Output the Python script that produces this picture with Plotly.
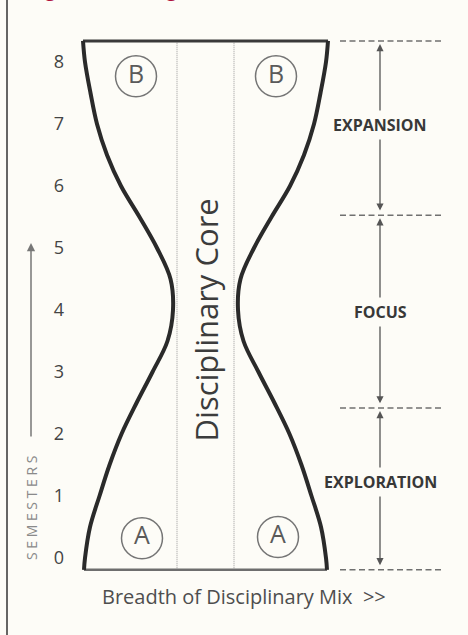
import plotly.graph_objects as go

# ---------------- data ----------------
semester_ticks = [0, 1, 2, 3, 4, 5, 6, 7, 8]
outline_semester = [-0.19, 0.0, 0.5, 1.0, 1.5, 2.0, 2.5, 3.0, 3.5, 4.0, 4.5, 5.0, 5.5, 6.0, 6.5, 7.0, 7.5, 8.0, 8.34]
outline_halfwidth = [12.15, 12.05, 11.55, 10.6, 9.6, 8.4, 6.9, 5.3, 3.8, 3.25, 3.5, 4.85, 6.6, 8.45, 9.85, 10.85, 11.5, 12.05, 12.25]
core_halfwidth = 2.85
core_label = "Disciplinary Core"
core_label_semester = 3.84

stage_letters = ["A", "A", "B", "B"]
stage_breadth = [-6.35, 7.25, -6.95, 7.05]
stage_semester = [0.32, 0.34, 7.77, 7.77]

phase_labels = ["EXPLORATION", "FOCUS", "EXPANSION"]
phase_bounds = [-0.19, 2.42, 5.53, 8.34]
phase_label_semester = [1.23, 3.97, 6.98]

x_title = "Breadth of Disciplinary Mix\u00a0\u00a0>>"
y_title = "S E M E S T E R S"
fig_title = "Figure 1: Undergraduate Curriculum Model"

# ---------------- styling constants ----------------
BG = "#FDFCF7"
FONT = "Open Sans"
OUT = "#2A2A2A"
GREY = "#707070"
X_RANGE = [-20.55, 26.25]
Y_RANGE = [-1.2419, 9.0]
PHASE_X = 17.45
DASH_X = [13.45, 23.75]
SEM_X = -17.45

fig = go.Figure()

left_x = [-w for w in outline_halfwidth]
right_x = list(outline_halfwidth)

# core dotted lines
for sgn in (-1, 1):
    fig.add_trace(go.Scatter(
        x=[sgn * core_halfwidth, sgn * core_halfwidth],
        y=[outline_semester[0], outline_semester[-1]],
        mode="lines", line=dict(color="#9A9A9A", width=1, dash="1px,1px"),
        hoverinfo="skip", showlegend=False))

# bottom line
fig.add_trace(go.Scatter(
    x=[left_x[0], right_x[0]], y=[outline_semester[0], outline_semester[0]],
    mode="lines", line=dict(color="#6E6E6E", width=2.5),
    hoverinfo="skip", showlegend=False))
# top line
fig.add_trace(go.Scatter(
    x=[left_x[-1], right_x[-1]], y=[outline_semester[-1], outline_semester[-1]],
    mode="lines", line=dict(color="#3A3A3A", width=3),
    hoverinfo="skip", showlegend=False))

# hourglass outline
for xs in (left_x, right_x):
    fig.add_trace(go.Scatter(
        x=xs, y=outline_semester, mode="lines",
        line=dict(color=OUT, width=4, shape="spline", smoothing=1.0),
        hoverinfo="skip", showlegend=False))

# stage circles
fig.add_trace(go.Scatter(
    x=stage_breadth, y=stage_semester, mode="markers+text",
    text=stage_letters, textposition="middle center",
    textfont=dict(family=FONT, size=25, color="#5A5A5A"),
    marker=dict(symbol="circle-open", size=41, color="#757575", line=dict(width=1.5, color="#757575")),
    hoverinfo="skip", showlegend=False))

# phase dashed boundaries
for b in phase_bounds:
    fig.add_trace(go.Scatter(
        x=DASH_X, y=[b, b], mode="lines",
        line=dict(color=GREY, width=1.5, dash="6px,3.5px"),
        hoverinfo="skip", showlegend=False))

annotations = []
# phase arrows and labels
for i, lab in enumerate(phase_labels):
    lo, hi = phase_bounds[i], phase_bounds[i + 1]
    annotations.append(dict(
        x=PHASE_X, y=hi - 0.05, ax=PHASE_X, ay=lo + 0.05, xref="x", yref="y",
        axref="x", ayref="y", text="", showarrow=True, arrowside="end+start",
        arrowhead=2, arrowsize=1.1, arrowwidth=1.3, arrowcolor="#555555"))
    annotations.append(dict(
        x=PHASE_X, y=phase_label_semester[i], xref="x", yref="y", text="<b>%s</b>" % lab,
        showarrow=False, bgcolor=BG, borderpad=3,
        font=dict(family=FONT, size=16, color="#383838")))

# disciplinary core label
annotations.append(dict(
    x=0, y=core_label_semester, xref="x", yref="y", text=core_label, textangle=-90,
    showarrow=False, font=dict(family=FONT, size=31, color="#3C3C3C")))

# semesters arrow + label
annotations.append(dict(
    x=SEM_X, y=5.08, ax=SEM_X, ay=1.935, xref="x", yref="y", axref="x", ayref="y",
    text="", showarrow=True, arrowhead=2, arrowsize=1.1, arrowwidth=1.5, arrowcolor="#777777"))
annotations.append(dict(
    x=SEM_X, y=0.806, xref="x", yref="y", text=y_title, textangle=-90,
    showarrow=False, font=dict(family=FONT, size=14, color="#8A8A8A")))

# x title
annotations.append(dict(
    x=3.8, y=-0.613, xref="x", yref="y", text=x_title, showarrow=False,
    font=dict(family=FONT, size=20, color="#4E4E4E")))

# clipped figure title at top
annotations.append(dict(
    x=28 / 468, y=1, xref="paper", yref="paper", xanchor="left", yanchor="bottom",
    yshift=-4, text="<b>%s</b>" % fig_title, showarrow=False,
    font=dict(family=FONT, size=18, color="#B0123C")))

fig.update_layout(
    width=468, height=635,
    margin=dict(l=0, r=0, t=0, b=0),
    paper_bgcolor=BG, plot_bgcolor=BG,
    showlegend=False,
    xaxis=dict(range=X_RANGE, visible=False, fixedrange=True),
    yaxis=dict(range=Y_RANGE, anchor="free", position=64 / 468,
               tickvals=semester_ticks, ticktext=[str(t) for t in semester_ticks],
               tickangle=0,
               showgrid=False, zeroline=False, showline=False, ticks="",
               tickfont=dict(family=FONT, size=18, color="#444444"), fixedrange=True),
    annotations=annotations,
    shapes=[dict(type="line", xref="paper", yref="paper", x0=7 / 468, x1=7 / 468, y0=0, y1=1,
                 line=dict(color="#333333", width=1.5))],
)

fig.write_html("out.html", config={"displayModeBar": False},
               post_script="document.body.style.margin='0';document.body.style.background='%s';" % BG)
